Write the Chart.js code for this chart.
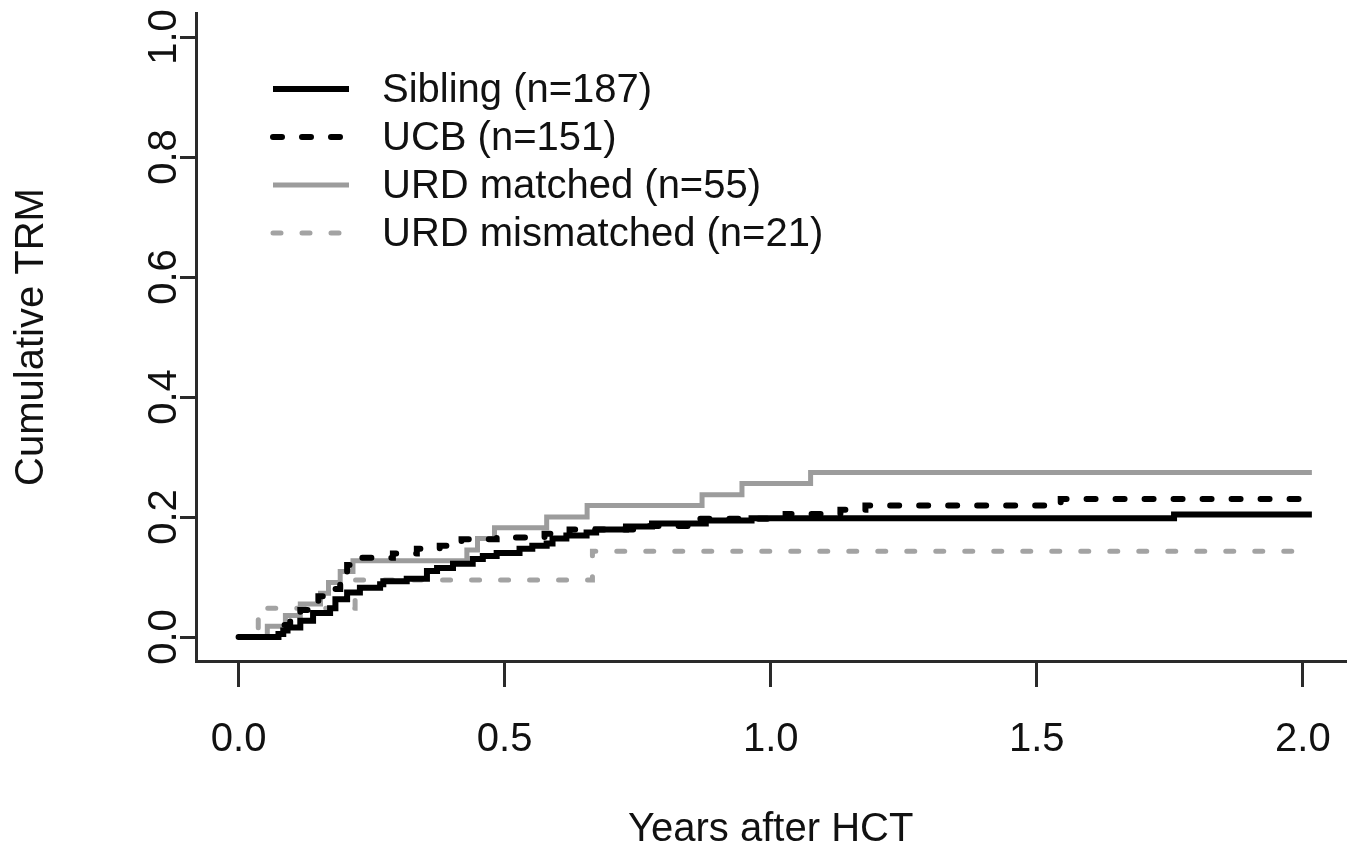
<!DOCTYPE html>
<html>
<head>
<meta charset="utf-8">
<script src="https://cdn.jsdelivr.net/npm/chart.js@4"></script>
<style>
  html, body { margin: 0; padding: 0; background: #fff; }
  #wrap { width: 1360px; height: 852px; }
</style>
</head>
<body>
<div id="wrap"><canvas id="trmChart"></canvas></div>
<script>
// tick labels
const xTicks = [0, 0.5, 1.0, 1.5, 2.0];
const yTicks = [0, 0.2, 0.4, 0.6, 0.8, 1.0];

const seriesNames = ['Sibling (n=187)', 'UCB (n=151)', 'URD matched (n=55)', 'URD mismatched (n=21)'];

// step curves: event time (years) and cumulative TRM after it
const siblingTimes = [0, 0.075, 0.084, 0.092, 0.116, 0.140, 0.172, 0.182, 0.204, 0.228, 0.266, 0.272, 0.316, 0.354, 0.373, 0.403, 0.440, 0.459, 0.485, 0.528, 0.552, 0.579, 0.590, 0.616, 0.654, 0.672, 0.728, 0.777, 0.878, 0.964, 1.758, 2.017];
const siblingTRM   = [0, 0.005, 0.011, 0.016, 0.027, 0.040, 0.048, 0.063, 0.074, 0.082, 0.088, 0.093, 0.097, 0.110, 0.115, 0.122, 0.130, 0.135, 0.140, 0.147, 0.152, 0.156, 0.164, 0.169, 0.174, 0.179, 0.184, 0.189, 0.194, 0.198, 0.204, 0.204];

const ucbTimes = [0, 0.079, 0.084, 0.097, 0.116, 0.135, 0.150, 0.172, 0.191, 0.204, 0.213, 0.290, 0.335, 0.378, 0.419, 0.485, 0.575, 0.622, 0.753, 0.846, 1.028, 1.131, 1.178, 1.545, 2.013];
const ucbTRM   = [0, 0.007, 0.020, 0.033, 0.045, 0.055, 0.068, 0.080, 0.100, 0.120, 0.132, 0.139, 0.147, 0.152, 0.163, 0.166, 0.172, 0.179, 0.185, 0.197, 0.205, 0.212, 0.219, 0.230, 0.230];

const urdMatchedTimes = [0, 0.054, 0.088, 0.116, 0.154, 0.169, 0.191, 0.215, 0.429, 0.449, 0.481, 0.579, 0.655, 0.871, 0.946, 1.075, 2.017];
const urdMatchedTRM   = [0, 0.018, 0.036, 0.055, 0.073, 0.091, 0.109, 0.127, 0.145, 0.164, 0.182, 0.200, 0.219, 0.237, 0.256, 0.274, 0.274];

const urdMismatchedTimes = [0, 0.037, 0.219, 0.665, 2.0];
const urdMismatchedTRM   = [0, 0.048, 0.095, 0.143, 0.143];

const toPoints = (ts, vs) => ts.map((t, i) => ({ x: t, y: vs[i] }));

const FONT = '"Liberation Sans", Arial, sans-serif';

// legend drawn as in the R plot: line sample + label, stacked top-left
const legendLines = {
  id: 'legendLines',
  afterDraw(chart) {
    const ctx = chart.ctx;
    chart.data.datasets.forEach((ds, i) => {
      const y = 89 + i * 48;
      ctx.save();
      ctx.strokeStyle = ds.borderColor;
      ctx.lineWidth = ds.borderWidth;
      ctx.lineCap = ds.borderCapStyle || 'butt';
      ctx.setLineDash(ds.borderDash || []);
      ctx.beginPath();
      ctx.moveTo(273, y);
      ctx.lineTo(349, y);
      ctx.stroke();
      ctx.setLineDash([]);
      ctx.fillStyle = '#111';
      ctx.font = '40px ' + FONT;
      ctx.textBaseline = 'middle';
      ctx.fillText(ds.label, 382, y + 2);
      ctx.restore();
    });
  }
};

const ctx = document.getElementById('trmChart').getContext('2d');
new Chart(ctx, {
  type: 'line',
  data: {
    datasets: [
      {
        label: seriesNames[0],
        data: toPoints(siblingTimes, siblingTRM),
        borderColor: '#000',
        borderWidth: 6,
        borderCapStyle: 'butt'
      },
      {
        label: seriesNames[1],
        data: toPoints(ucbTimes, ucbTRM),
        borderColor: '#000',
        borderWidth: 6,
        borderDash: [9, 20],
        borderCapStyle: 'round'
      },
      {
        label: seriesNames[2],
        data: toPoints(urdMatchedTimes, urdMatchedTRM),
        borderColor: '#9c9c9c',
        borderWidth: 5,
        borderCapStyle: 'butt'
      },
      {
        label: seriesNames[3],
        data: toPoints(urdMismatchedTimes, urdMismatchedTRM),
        borderColor: '#a3a3a3',
        borderWidth: 5,
        borderDash: [8, 21],
        borderCapStyle: 'round'
      }
    ]
  },
  options: {
    responsive: true,
    maintainAspectRatio: false,
    animation: false,
    layout: { padding: { top: 13, right: 10, left: 0, bottom: 0 } },
    elements: {
      line: { stepped: true, tension: 0, fill: false },
      point: { radius: 0, hoverRadius: 0 }
    },
    plugins: {
      legend: { display: false },
      tooltip: { enabled: false }
    },
    scales: {
      x: {
        type: 'linear',
        min: -0.08,
        max: 2.08,
        afterBuildTicks: s => { s.ticks = xTicks.map(v => ({ value: v })); },
        afterFit: s => { s.height = 191; },
        grid: { drawOnChartArea: false, drawTicks: true, tickLength: 26, color: '#2a2a2a', lineWidth: 3 },
        border: { display: true, color: '#2a2a2a', width: 3 },
        ticks: {
          autoSkip: false,
          maxRotation: 0,
          padding: 29,
          color: '#111',
          font: { family: FONT, size: 40 },
          callback: v => v.toFixed(1)
        },
        title: {
          display: true,
          text: 'Years after HCT',
          color: '#111',
          font: { family: FONT, size: 40, lineHeight: 1 },
          padding: { top: 0, bottom: 2 }
        }
      },
      y: {
        min: -0.04,
        max: 1.04,
        afterBuildTicks: s => { s.ticks = yTicks.map(v => ({ value: v })); },
        afterFit: s => { s.width = 196; },
        grid: { drawOnChartArea: false, drawTicks: true, tickLength: 16, color: '#2a2a2a', lineWidth: 3 },
        border: { display: true, color: '#2a2a2a', width: 3 },
        ticks: {
          autoSkip: false,
          minRotation: 90,
          maxRotation: 90,
          crossAlign: 'center',
          padding: -13,
          color: '#111',
          font: { family: FONT, size: 40 },
          callback: v => v.toFixed(1)
        },
        title: {
          display: true,
          text: 'Cumulative TRM',
          color: '#111',
          font: { family: FONT, size: 40, lineHeight: 1 },
          padding: { top: 12, bottom: 0 }
        }
      }
    }
  },
  plugins: [legendLines]
});
</script>
</body>
</html>
